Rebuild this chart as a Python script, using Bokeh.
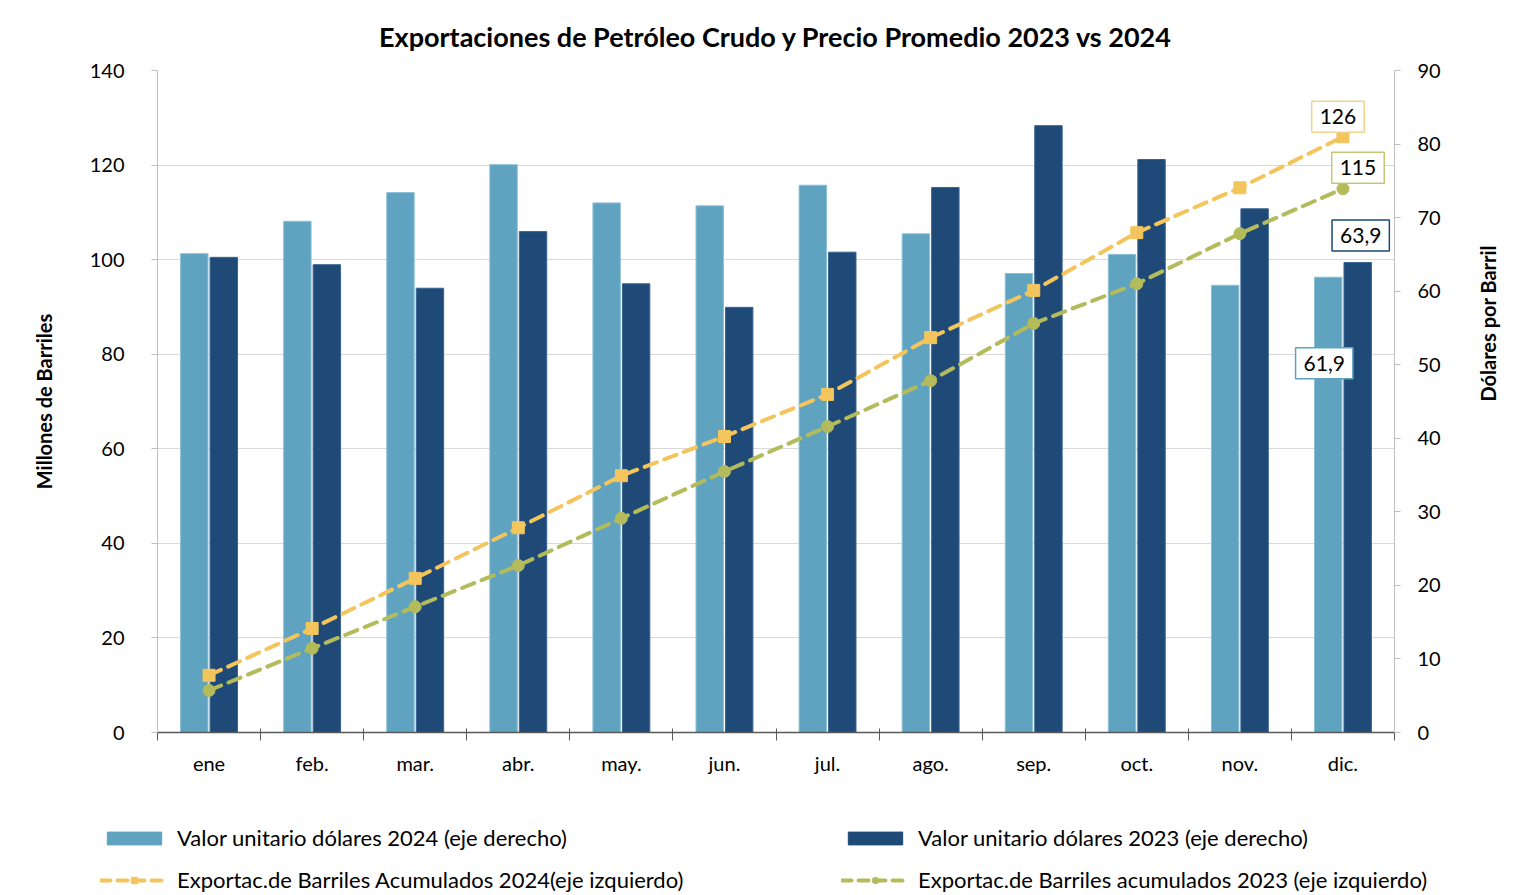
import math
from bokeh.plotting import figure
from bokeh.models import (Range1d, LinearAxis, FixedTicker, Legend, LegendItem, Label)
from bokeh.embed import file_html
from bokeh.resources import INLINE

months = ["ene", "feb.", "mar.", "abr.", "may.", "jun.", "jul.", "ago.", "sep.", "oct.", "nov.", "dic."]
precio_2024 = [65.1, 69.5, 73.4, 77.2, 72.0, 71.6, 74.4, 67.8, 62.4, 65.0, 60.8, 61.9]
precio_2023 = [64.6, 63.6, 60.4, 68.1, 61.0, 57.8, 65.3, 74.1, 82.5, 77.9, 71.2, 63.9]
acum_2024 = [12.1, 22.0, 32.6, 43.3, 54.3, 62.6, 71.5, 83.5, 93.5, 105.7, 115.2, 126.0]
acum_2023 = [8.9, 17.8, 26.6, 35.3, 45.3, 55.2, 64.7, 74.4, 86.5, 94.9, 105.5, 115.0]
left_ticks = [0, 20, 40, 60, 80, 100, 120, 140]
right_ticks = [0, 10, 20, 30, 40, 50, 60, 70, 80, 90]
legend_labels = ["Valor unitario dólares 2024 (eje derecho)",
                 "Valor unitario dólares 2023 (eje derecho)",
                 "Exportac.de Barriles Acumulados 2024(eje izquierdo)",
                 "Exportac.de Barriles acumulados 2023 (eje izquierdo)"]

FONT = "Lato"
C_LIGHT = "#5FA3C0"
C_DARK = "#1F4A77"
C_YEL = "#F3C55C"
C_GRN = "#B3BB5B"

n = len(months)
xc = [i + 0.5 for i in range(n)]
x_light = [x - 0.143 for x in xc]
x_dark = [x + 0.143 for x in xc]

p = figure(width=1514, height=810, output_backend="svg", toolbar_location=None,
           x_range=Range1d(0, n), y_range=Range1d(0, 140),
           min_border_left=157, min_border_right=117, min_border_top=70, min_border_bottom=78)
p.extra_y_ranges = {"right": Range1d(0, 90)}
p.outline_line_color = None
p.background_fill_color = "white"

p.title.text = "Exportaciones de Petróleo Crudo y Precio Promedio 2023 vs 2024"
p.title.align = "center"
p.title.text_font = FONT
p.title.text_font_size = "27px"
p.title.text_font_style = "bold"
p.title.text_color = "black"
p.title.standoff = 35

# bars (right axis)
r_light = p.vbar(x=x_light, top=precio_2024, width=0.266, y_range_name="right",
                 fill_color=C_LIGHT, line_color="#8CC0D6", line_width=1)
r_dark = p.vbar(x=x_dark, top=precio_2023, width=0.266, y_range_name="right",
                fill_color=C_DARK, line_color="#3A6490", line_width=1)

# lines (left axis)
LDASH = "13 8"
p.line(xc, acum_2024, line_color=C_YEL, line_width=4, line_dash=LDASH, line_cap="round")
p.scatter(xc, acum_2024, marker="square", size=12, fill_color=C_YEL, line_color=C_YEL)
p.line(xc, acum_2023, line_color=C_GRN, line_width=4, line_dash=LDASH, line_cap="round")
p.scatter(xc, acum_2023, marker="circle", size=12, fill_color=C_GRN, line_color=C_GRN)

# axes
p.xaxis.ticker = FixedTicker(ticks=xc, minor_ticks=list(range(n + 1)))
p.xaxis.major_label_overrides = {x: m for x, m in zip(xc, months)}
p.xaxis.major_tick_line_color = None
p.xaxis.minor_tick_line_color = "#595959"
p.xaxis.minor_tick_in = 4
p.xaxis.minor_tick_out = 8
p.xaxis.axis_line_color = "#595959"
p.xaxis.axis_line_width = 1.5
p.xaxis.major_label_text_font = FONT
p.xaxis.major_label_text_font_size = "20px"
p.xaxis.major_label_text_color = "black"
p.xaxis.major_label_standoff = 10

p.yaxis.ticker = FixedTicker(ticks=left_ticks)
p.yaxis.minor_tick_line_color = None
p.yaxis.axis_line_color = "#BFBFBF"
p.yaxis.major_tick_line_color = "#BFBFBF"
p.yaxis.major_tick_in = 0
p.yaxis.major_tick_out = 6
p.yaxis.major_label_text_font = FONT
p.yaxis.major_label_text_font_size = "20px"
p.yaxis.major_label_text_color = "black"
p.yaxis.major_label_standoff = 27
p.yaxis.axis_label = "Millones de Barriles"
p.yaxis.axis_label_text_font = FONT
p.yaxis.axis_label_text_font_size = "20px"
p.yaxis.axis_label_text_font_style = "bold"
p.yaxis.axis_label_text_color = "black"
p.yaxis.axis_label_standoff = 31

ra = LinearAxis(y_range_name="right", ticker=FixedTicker(ticks=right_ticks))
ra.minor_tick_line_color = None
ra.axis_line_color = "#BFBFBF"
ra.major_tick_line_color = "#BFBFBF"
ra.major_tick_in = 0
ra.major_tick_out = 6
ra.major_label_text_font = FONT
ra.major_label_text_font_size = "20px"
ra.major_label_text_color = "black"
ra.major_label_standoff = 17
ra.axis_label = "Dólares por Barril"
ra.axis_label_text_font = FONT
ra.axis_label_text_font_size = "20px"
ra.axis_label_text_font_style = "bold"
ra.axis_label_text_color = "black"
ra.axis_label_standoff = 44
ra.axis_label_orientation = math.pi / 2
p.add_layout(ra, "right")

p.xgrid.grid_line_color = None
p.ygrid.ticker = FixedTicker(ticks=left_ticks)
p.ygrid.grid_line_color = "#D9D9D9"

# data labels for last month
last = n - 1
def fmt(v):
    return ("%.1f" % v).replace(".", ",")

def add_lbl(x, y, text, color, xo, yo, rng="default"):
    lb = Label(x=x, y=y, text=text, x_offset=xo, y_offset=yo, y_range_name=rng,
               text_font=FONT, text_font_size="21px", text_color="black",
               text_align="center", text_baseline="middle",
               background_fill_color="white", border_line_color=color, border_line_width=1.5,
               padding=8)
    p.add_layout(lb)

add_lbl(xc[last], acum_2024[last], "%d" % round(acum_2024[last]), "#F0D58C", -5, 20)
add_lbl(xc[last], acum_2023[last], "%d" % round(acum_2023[last]), "#C2C77A", 15, 21)
add_lbl(x_dark[last], precio_2023[last], fmt(precio_2023[last]), C_DARK, 3, 27, "right")
add_lbl(x_light[last], precio_2024[last], fmt(precio_2024[last]), C_LIGHT, -4, -86, "right")

# legend figure (separate root below the chart); swatch renderers sit outside its ranges
lf = figure(width=1514, height=85, output_backend="svg", toolbar_location=None,
            x_range=Range1d(0, 1), y_range=Range1d(0, 1), min_border=0,
            min_border_left=0, min_border_right=0, min_border_top=0, min_border_bottom=0)
lf.axis.visible = False
lf.grid.visible = False
lf.outline_line_color = None
d_light = lf.vbar(x=[5], top=[1], width=0.1, fill_color=C_LIGHT, line_color=C_LIGHT)
d_dark = lf.vbar(x=[5], top=[1], width=0.1, fill_color=C_DARK, line_color=C_DARK)
d_l24 = lf.line(x=[5, 6], y=[0, 0], line_color=C_YEL, line_width=4, line_dash="10 7", line_cap="round")
d_s24 = lf.scatter(x=[5], y=[0], marker="square", size=12, fill_color=C_YEL, line_color=C_YEL)
d_l23 = lf.line(x=[5, 6], y=[0, 0], line_color=C_GRN, line_width=4, line_dash="10 7", line_cap="round")
d_s23 = lf.scatter(x=[5], y=[0], marker="circle", size=12, fill_color=C_GRN, line_color=C_GRN)

legend = Legend(items=[
    LegendItem(label=legend_labels[0], renderers=[d_light]),
    LegendItem(label=legend_labels[1], renderers=[d_dark]),
    LegendItem(label=legend_labels[2], renderers=[d_l24, d_s24]),
    LegendItem(label=legend_labels[3], renderers=[d_l23, d_s23]),
], ncols=2, location=(100, 2), orientation="horizontal",
    glyph_width=68, glyph_height=16, label_standoff=9, label_width=649, spacing=15,
    label_text_font=FONT, label_text_font_size="22px", label_text_color="black",
    border_line_color=None, background_fill_alpha=0, padding=0, margin=0)
lf.add_layout(legend, "center")

open("out.html", "w").write(file_html([p, lf], INLINE))
